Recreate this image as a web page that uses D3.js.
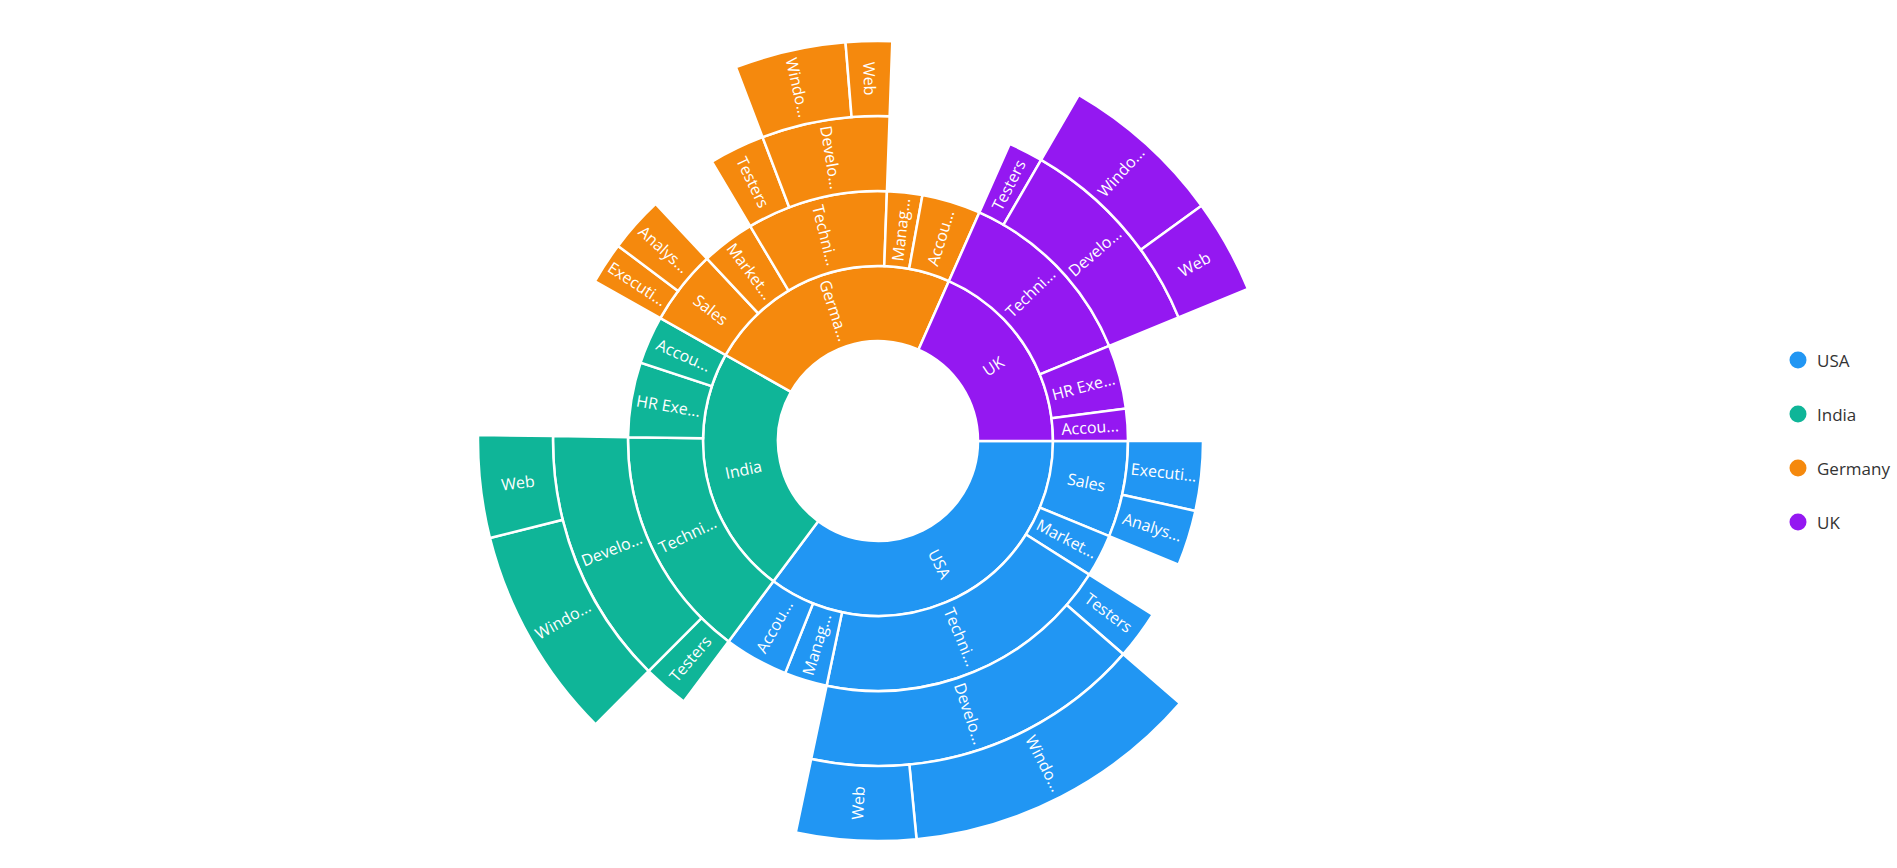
<!DOCTYPE html>
<html>
<head>
<meta charset="utf-8">
<script src="https://cdn.jsdelivr.net/npm/d3@7"></script>
<style>
  html, body { margin: 0; padding: 0; background: #ffffff; }
  svg { display: block; }
</style>
</head>
<body>
<svg id="chart" width="1897" height="868"></svg>
<script>
// ---- data ----
const countries = ["USA", "India", "Germany", "UK"];
const countryColors = ["#2196F3", "#0FB598", "#F5890D", "#9418F1"];

const paths = [
  ["USA", "Sales", "Executive"],
  ["USA", "Sales", "Analyst"],
  ["USA", "Marketing"],
  ["USA", "Technical", "Testers"],
  ["USA", "Technical", "Developers", "Windows"],
  ["USA", "Technical", "Developers", "Web"],
  ["USA", "Management"],
  ["USA", "Accounts"],
  ["India", "Technical", "Testers"],
  ["India", "Technical", "Developers", "Windows"],
  ["India", "Technical", "Developers", "Web"],
  ["India", "HR Executives"],
  ["India", "Accounts"],
  ["Germany", "Sales", "Executive"],
  ["Germany", "Sales", "Analyst"],
  ["Germany", "Marketing"],
  ["Germany", "Technical", "Testers"],
  ["Germany", "Technical", "Developers", "Windows"],
  ["Germany", "Technical", "Developers", "Web"],
  ["Germany", "Management"],
  ["Germany", "Accounts"],
  ["UK", "Technical", "Testers"],
  ["UK", "Technical", "Developers", "Windows"],
  ["UK", "Technical", "Developers", "Web"],
  ["UK", "HR Executives"],
  ["UK", "Accounts"]
];
const employeeCounts = [
  50, 40, 40, 35, 175, 70, 40, 60,
  33, 125, 60, 70, 45,
  30, 40, 50, 40, 65, 27, 33, 55,
  25, 96, 55, 60, 30
];

// ---- build hierarchy (keeps data order) ----
const rootObj = { name: "root", children: [] };
paths.forEach((p, i) => {
  let node = rootObj;
  p.forEach((name, d) => {
    node.children = node.children || [];
    let child = node.children.find(c => c.name === name);
    if (!child) { child = { name }; node.children.push(child); }
    if (d === p.length - 1) child.value = employeeCounts[i];
    node = child;
  });
});

const W = 1897, H = 868;
const cx = 878, cy = 441;
const innerR = 100, outerR = 400, maxDepth = 4;

const root = d3.hierarchy(rootObj).sum(d => d.value || 0);
d3.partition().size([2 * Math.PI, maxDepth + 1])(root);

const rScale = d3.scaleLinear().domain([1, maxDepth + 1]).range([innerR, outerR]);
const color = d3.scaleOrdinal().domain(countries).range(countryColors);

const svg = d3.select("#chart");
const g = svg.append("g").attr("transform", `translate(${cx},${cy})`);

// partition angles start at 3 o'clock and run clockwise; d3.arc starts at 12 o'clock
const offset = Math.PI / 2;
const arc = d3.arc()
  .startAngle(d => d.x0 + offset)
  .endAngle(d => d.x1 + offset)
  .innerRadius(d => rScale(d.y0))
  .outerRadius(d => rScale(d.y1));

const nodes = root.descendants().filter(d => d.depth > 0);
const countryOf = d => d.ancestors().find(a => a.depth === 1).data.name;

g.selectAll("path.seg")
  .data(nodes)
  .join("path")
  .attr("class", "seg")
  .attr("d", arc)
  .attr("fill", d => color(countryOf(d)))
  .attr("stroke", "#ffffff")
  .attr("stroke-width", 2.5);

// ---- label fitting (approximate glyph advance widths in em) ----
const glyphEm = {
  " ": 0.274, A: 0.652, D: 0.723, E: 0.489, G: 0.70, H: 0.712, I: 0.266, K: 0.574,
  M: 0.868, R: 0.579, S: 0.541, T: 0.52, U: 0.699, W: 0.905,
  a: 0.508, b: 0.6, c: 0.451, d: 0.6, e: 0.527, g: 0.6, h: 0.586, i: 0.241,
  k: 0.5, l: 0.241, m: 0.897, n: 0.586, o: 0.59, p: 0.6, r: 0.349, s: 0.425,
  t: 0.34, u: 0.586, v: 0.477, w: 0.733, x: 0.465, y: 0.477
};
const maxEm = 3.17;
const textEm = s => Array.from(s).reduce((acc, ch) => acc + (glyphEm[ch] || 0.55), 0);
function fitLabel(s) {
  if (textEm(s) <= maxEm) return s;
  for (let i = s.length - 1; i > 0; i--) {
    const pre = s.slice(0, i);
    if (textEm(pre) <= maxEm) return pre + "...";
  }
  return "...";
}

g.selectAll("text.lbl")
  .data(nodes)
  .join("text")
  .attr("class", "lbl")
  .attr("transform", d => {
    const a = (d.x0 + d.x1) / 2;
    const r = (rScale(d.y0) + rScale(d.y1)) / 2;
    const deg = a * 180 / Math.PI;
    const rot = (deg > 90 && deg < 270) ? deg - 180 : deg;
    return `translate(${r * Math.cos(a)},${r * Math.sin(a)}) rotate(${rot})`;
  })
  .attr("text-anchor", "middle")
  .attr("dominant-baseline", "central")
  .attr("fill", "#ffffff")
  .style("font-family", "'Open Sans', 'Noto Sans', sans-serif")
  .style("font-size", "16px")
  .text(d => fitLabel(d.data.name));

// ---- legend ----
const legend = svg.append("g").attr("transform", "translate(1798,0)");
const legendY = d3.scalePoint().domain(countries).range([360, 522]);
const items = legend.selectAll("g.item").data(countries).join("g")
  .attr("class", "item")
  .attr("transform", d => `translate(0,${legendY(d)})`);
items.append("circle").attr("r", 8.5).attr("fill", d => color(d));
items.append("text")
  .attr("x", 19)
  .attr("dominant-baseline", "central")
  .attr("fill", "#333333")
  .style("font-family", "'Open Sans', 'Noto Sans', sans-serif")
  .style("font-size", "17px")
  .text(d => d);
</script>
</body>
</html>
